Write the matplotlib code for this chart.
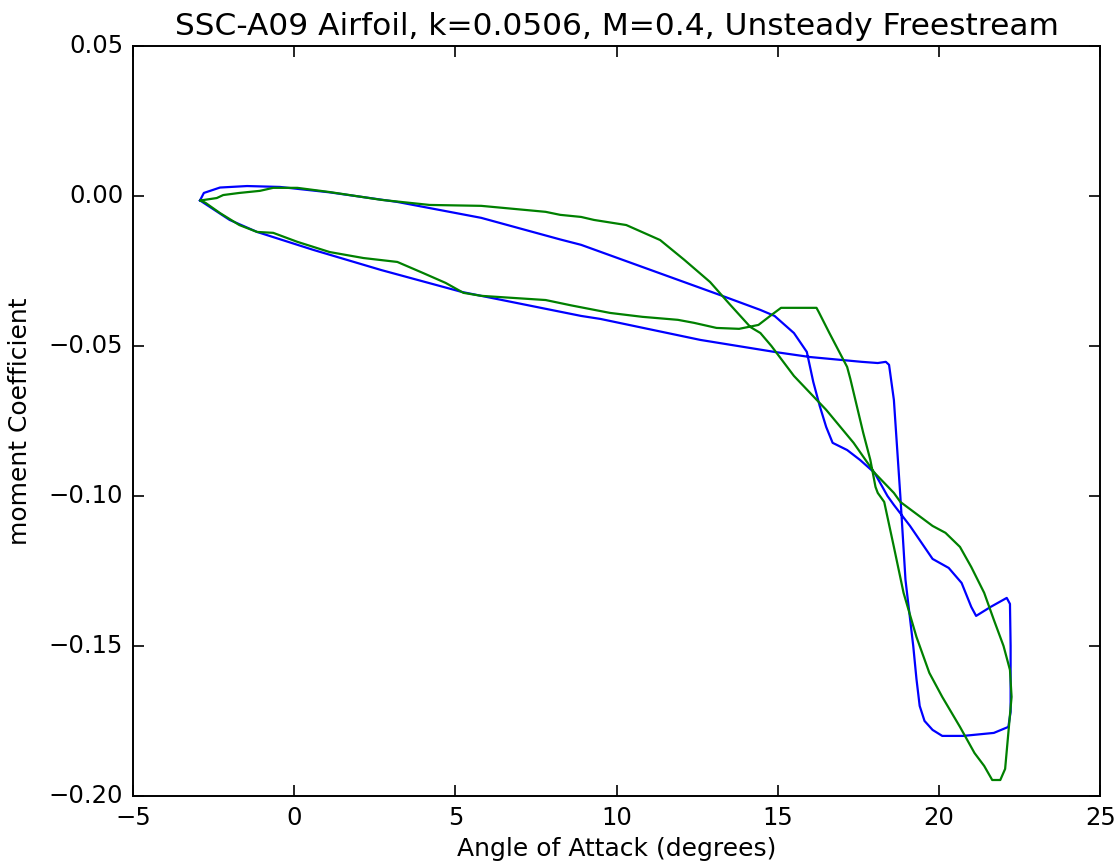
import matplotlib
matplotlib.use("Agg")
import matplotlib.pyplot as plt

# Computed (blue) loop
alpha_cfd = [-2.92, -2.8, -2.3, -1.46, -0.44, 1.1, 3.2, 5.8, 8.25, 8.9, 13.2, 14.46, 14.9, 15.5,
             15.9, 16.1, 16.3, 16.5, 16.7, 17.15, 17.55, 18.0, 18.4, 18.6, 19.1, 19.8, 20.3,
             20.7, 21.0, 21.15, 21.6, 22.1, 22.2, 22.22, 22.22, 22.15, 21.7, 20.75, 20.1, 19.8,
             19.55, 19.4, 19.3, 19.2, 18.96, 18.8, 18.6, 18.45, 18.35, 18.1, 17.6, 16.0, 14.9,
             12.6, 9.5, 8.9, 5.2, 2.7, 0.6, -1.15, -2.0, -2.92]
cm_cfd = [-0.0015, 0.001, 0.0028, 0.0033, 0.003, 0.0012, -0.002, -0.0073, -0.0145, -0.0163,
          -0.033, -0.038, -0.040, -0.0457, -0.052, -0.062, -0.070, -0.077, -0.0823, -0.0847,
          -0.088, -0.0923, -0.100, -0.103, -0.110, -0.121, -0.124, -0.129, -0.137, -0.140,
          -0.137, -0.134, -0.136, -0.150, -0.172, -0.177, -0.179, -0.180, -0.180, -0.178,
          -0.175, -0.170, -0.161, -0.150, -0.128, -0.100, -0.068, -0.0563, -0.0553, -0.0557,
          -0.0553, -0.0537, -0.052, -0.048, -0.041, -0.040, -0.032, -0.0247, -0.018, -0.012,
          -0.008, -0.0015]

# Experimental (green) loop
alpha_exp = [-2.9, -2.4, -2.2, -1.7, -1.06, -0.65, 0.1, 1.1, 2.7, 4.2, 5.8, 7.8, 8.25, 8.9,
             9.3, 10.3, 11.35, 12.1, 12.9, 13.5, 14.15, 14.46, 14.8, 15.5, 16.5, 17.35, 18.0,
             18.6, 18.8, 19.3, 19.8, 20.2, 20.65, 21.0, 21.4, 21.7, 22.0, 22.2, 22.25, 22.15,
             22.05, 21.9, 21.65, 21.4, 21.1, 20.65, 20.1, 19.7, 19.3, 18.9, 18.6, 18.3, 18.1,
             18.03, 17.87, 17.65, 17.45, 17.25, 17.15, 16.6, 16.27, 16.2, 15.7, 15.1, 14.8,
             14.4, 13.8, 13.1, 12.4, 11.9, 10.8, 9.8, 8.6, 7.8, 6.8, 5.8, 5.25, 4.7, 4.0, 3.2,
             2.15, 1.1, 0.1, -0.65, -1.15, -1.7, -2.3, -2.75, -2.9]
cm_exp = [-0.0015, -0.0007, 0.0003, 0.001, 0.0017, 0.0027, 0.0027, 0.0013, -0.0013, -0.003,
          -0.0033, -0.0053, -0.0063, -0.007, -0.008, -0.0097, -0.0147, -0.0213, -0.0287,
          -0.036, -0.0437, -0.0457, -0.050, -0.060, -0.0713, -0.0823, -0.0923, -0.099,
          -0.102, -0.106, -0.110, -0.1123, -0.117, -0.1237, -0.1323, -0.1413, -0.150, -0.158,
          -0.167, -0.179, -0.191, -0.1947, -0.1947, -0.190, -0.1857, -0.177, -0.167, -0.159,
          -0.147, -0.1323, -0.117, -0.102, -0.099, -0.097, -0.088, -0.079, -0.070, -0.061,
          -0.057, -0.0457, -0.0387, -0.0373, -0.0373, -0.0373, -0.0397, -0.043, -0.0443,
          -0.044, -0.0423, -0.0413, -0.0403, -0.039, -0.0365, -0.0347, -0.034, -0.0333,
          -0.0323, -0.029, -0.0257, -0.022, -0.0207, -0.0187, -0.0153, -0.0123, -0.012,
          -0.0097, -0.0057, -0.0023, -0.0015]

x_ticks = [-5, 0, 5, 10, 15, 20, 25]
y_ticks = [-0.20, -0.15, -0.10, -0.05, 0.00, 0.05]

plt.style.use("classic")
plt.rcParams["font.family"] = ["DejaVu Sans"]

fig = plt.figure(figsize=(11.17, 8.67), dpi=100, facecolor="white")
ax = fig.add_axes([0.119, 0.082, 0.866, 0.865])
ax.set_facecolor("white")

ax.plot(alpha_cfd, cm_cfd, color=(0, 0, 1), lw=1.6)
ax.plot(alpha_exp, cm_exp, color=(0, 0.5, 0), lw=1.6)

ax.set_xlim(-5, 25)
ax.set_ylim(-0.20, 0.05)
ax.set_xticks(x_ticks)
ax.set_yticks(y_ticks)
ax.set_yticklabels(["\u22120.20", "\u22120.15", "\u22120.10", "\u22120.05", "0.00", "0.05"])
ax.set_xticklabels(["\u22125", "0", "5", "10", "15", "20", "25"])

for s in ax.spines.values():
    s.set_linewidth(1.4)
ax.tick_params(which="major", direction="in", length=8, width=1.2, labelsize=17.5,
               top=True, right=True, pad=7)

ax.set_title("SSC-A09 Airfoil, k=0.0506, M=0.4, Unsteady Freestream", fontsize=22.5, pad=8)
ax.set_xlabel("Angle of Attack (degrees)", fontsize=18, labelpad=5)
ax.set_ylabel("moment Coefficient", fontsize=18, labelpad=12)

fig.savefig("out.png", dpi=100, facecolor="white")
